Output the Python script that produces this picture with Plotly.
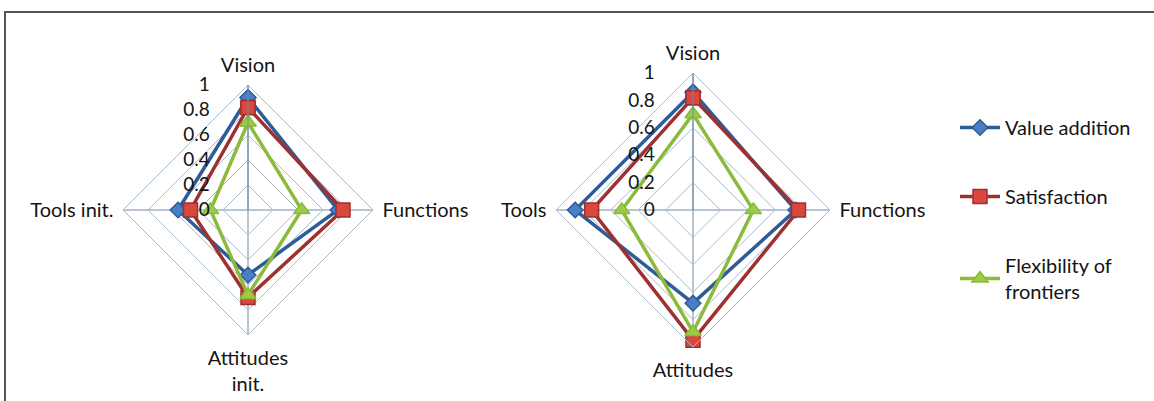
import plotly.graph_objects as go

# categories of the two radar charts
CATS_LEFT = ["Vision", "Functions", "Attitudes<br>init.", "Tools init."]
CATS_RIGHT = ["Vision", "Functions", "Attitudes", "Tools"]

SERIES = ["Value addition", "Satisfaction", "Flexibility of<br>frontiers"]

# values (Vision, Functions, Attitudes init., Tools init.)
LEFT_VALUE_ADDITION = [0.90, 0.72, 0.52, 0.56]
LEFT_SATISFACTION = [0.82, 0.76, 0.70, 0.46]
LEFT_FLEXIBILITY = [0.70, 0.43, 0.68, 0.30]

# values (Vision, Functions, Attitudes, Tools)
RIGHT_VALUE_ADDITION = [0.86, 0.75, 0.68, 0.86]
RIGHT_SATISFACTION = [0.82, 0.77, 0.95, 0.74]
RIGHT_FLEXIBILITY = [0.70, 0.44, 0.89, 0.52]

TICKS = [0, 0.2, 0.4, 0.6, 0.8, 1]
TICK_TEXT = ["0", "0.2", "0.4", "0.6", "0.8", "1"]

STYLES = [
    dict(line="#2D5C99", fill="#4A7FC6", symbol="diamond", size=12),
    dict(line="#9E3030", fill="#D9473F", symbol="square", size=14),
    dict(line="#8CBB3C", fill="#9CCB48", symbol="triangle-up", size=14),
]

FONT = "Lato, Calibri, Arial, sans-serif"
TXT = "#141414"
W, H = 1154, 401

fig = go.Figure()


def add_chart(name, cats, series_vals, showlegend):
    for i, (label, vals) in enumerate(zip(SERIES, series_vals)):
        st = STYLES[i]
        fig.add_trace(go.Scatterpolar(
            r=vals + vals[:1],
            theta=cats + cats[:1],
            mode="lines+markers",
            name=label,
            legendgroup=f"g{i}",
            showlegend=showlegend,
            subplot=name,
            line=dict(color=st["line"], width=3.5),
            marker=dict(symbol=st["symbol"], size=st["size"], color=st["fill"],
                        line=dict(color=st["line"], width=1.5)),
        ))


add_chart("polar", CATS_LEFT,
          [LEFT_VALUE_ADDITION, LEFT_SATISFACTION, LEFT_FLEXIBILITY], False)
add_chart("polar2", CATS_RIGHT,
          [RIGHT_VALUE_ADDITION, RIGHT_SATISFACTION, RIGHT_FLEXIBILITY], True)


def polar_layout(cx, cy, r):
    return dict(
        domain=dict(x=[(cx - r) / W, (cx + r) / W],
                    y=[(H - cy - r) / H, (H - cy + r) / H]),
        gridshape="linear",
        bgcolor="rgba(0,0,0,0)",
        radialaxis=dict(
            range=[0, 1], tickvals=TICKS, ticktext=TICK_TEXT,
            angle=90, tickangle=90, side="counterclockwise",
            showline=True, linecolor="#6F8CA3", linewidth=1,
            gridcolor="#A9BCCB", gridwidth=1,
            ticks="outside", ticklen=31, tickcolor="rgba(0,0,0,0)",
            tickfont=dict(family=FONT, size=19, color=TXT),
        ),
        angularaxis=dict(
            rotation=90, direction="clockwise",
            showline=True, linecolor="#A9BCCB", linewidth=1,
            gridcolor="#6F8CA3", gridwidth=1,
            ticks="outside", ticklen=5, tickcolor="rgba(0,0,0,0)",
            tickfont=dict(family=FONT, size=20, color=TXT),
        ),
    )


fig.update_layout(
    width=W, height=H,
    margin=dict(l=0, r=0, t=0, b=0),
    paper_bgcolor="white",
    plot_bgcolor="white",
    font=dict(family=FONT, size=20, color=TXT),
    polar=polar_layout(248, 210, 125),
    polar2=polar_layout(693, 210, 137),
    legend=dict(
        x=955 / W, y=(H - 108) / H, xanchor="left", yanchor="top",
        tracegroupgap=40, itemwidth=40,
        font=dict(family=FONT, size=20, color=TXT),
        bgcolor="rgba(0,0,0,0)",
    ),
    shapes=[
        dict(type="rect", xref="paper", yref="paper",
             x0=5 / W, x1=1.2, y0=-0.2, y1=(H - 12) / H,
             line=dict(color="#555555", width=2), fillcolor="rgba(0,0,0,0)"),
    ],
)

fig.write_html("out.html", config={"displayModeBar": False},
               post_script="document.body.style.margin='0';")
